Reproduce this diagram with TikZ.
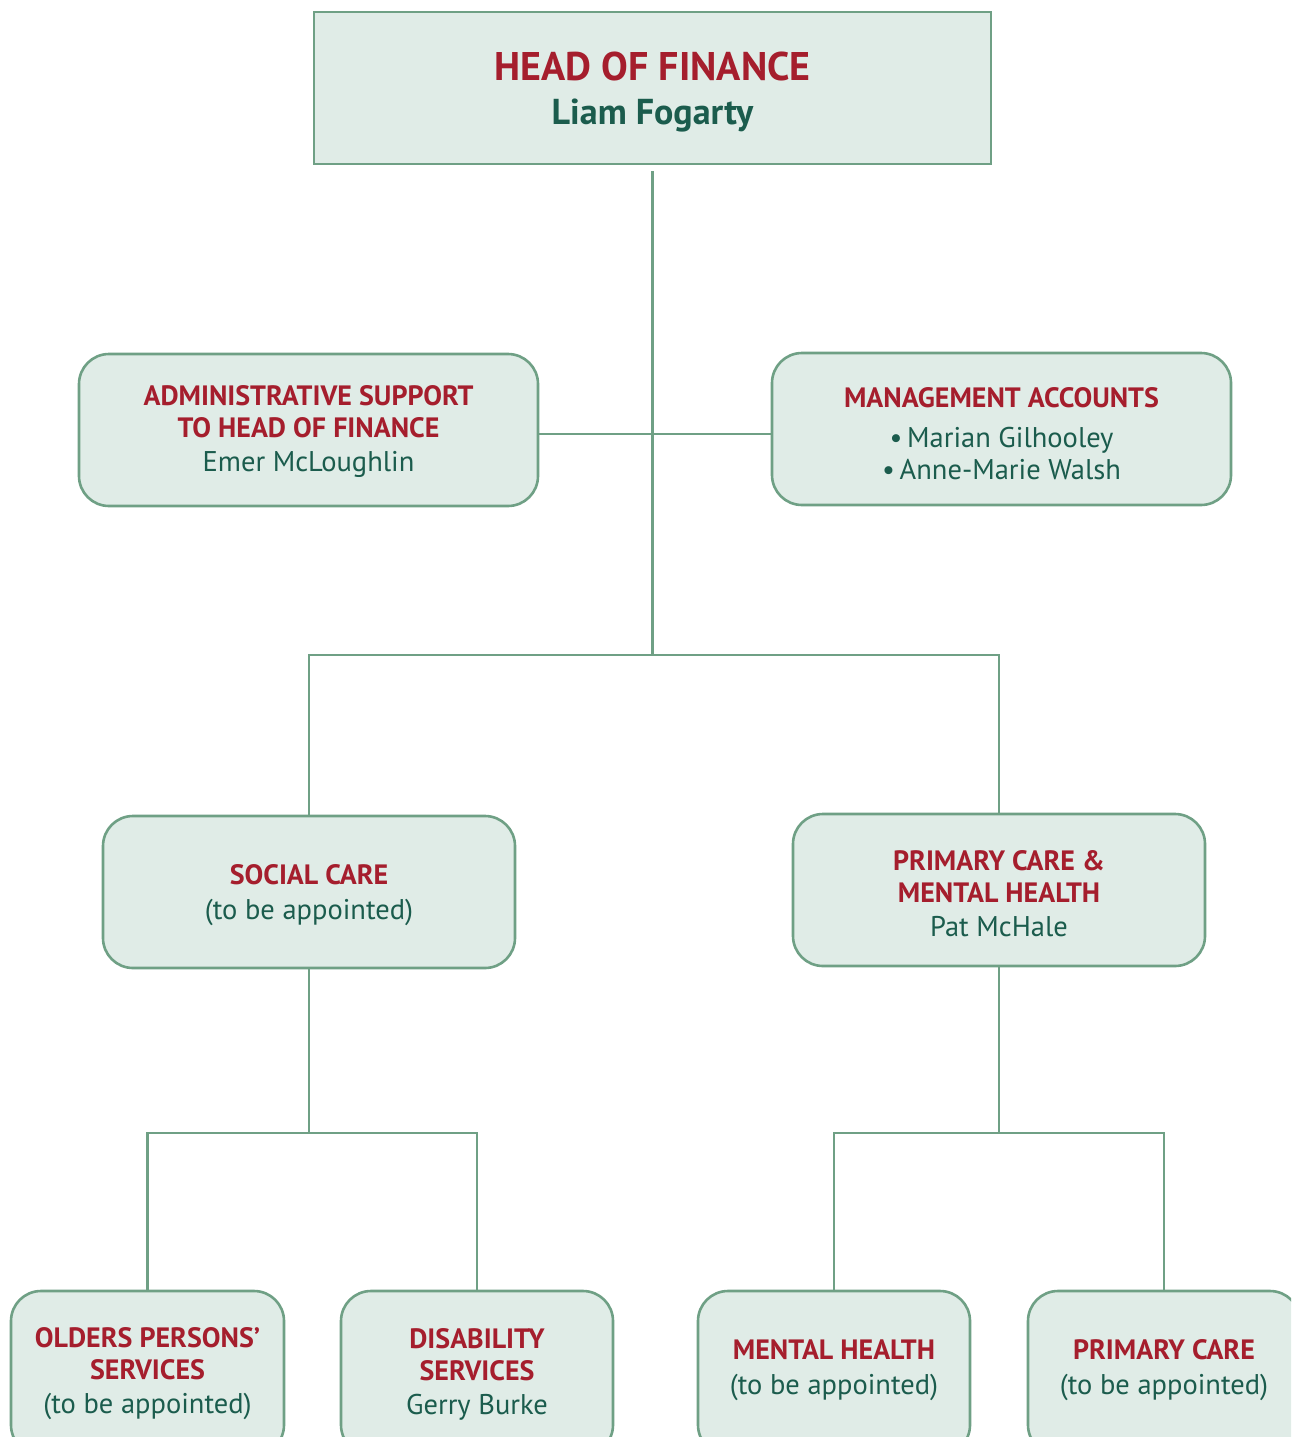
\documentclass[tikz,border=0pt]{standalone}
\usepackage{fontspec}
\setmainfont{PT Sans}
\definecolor{lineg}{HTML}{6FA085}
\definecolor{boxfill}{HTML}{E0ECE7}
\definecolor{titler}{HTML}{A51E2D}
\definecolor{namec}{HTML}{1B5C4D}
\newcommand{\ttl}[1]{{\color{titler}\bfseries\fontsize{28}{32}\selectfont #1}}
\begin{document}
\begin{tikzpicture}[x=1pt,y=-1pt,
  box/.style={draw=lineg, fill=boxfill, line width=2.6pt, rounded corners=30pt,
    inner sep=0pt},
  txt/.style={align=center, inner sep=0pt, text=namec,
    font=\fontsize{28.5}{32}\selectfont},
  link/.style={draw=lineg, line width=2.4pt}]
\useasboundingbox (0,0) rectangle (1291,1437);
\clip (0,0) rectangle (1291,1437);

% head of the department
\node[box, rounded corners=0pt, minimum width=677pt, minimum height=152pt] (top) at (652.5,88) {};
\node[txt, font=\fontsize{36}{44}\selectfont] (top-t) at ([yshift=-4pt]top.center)
  {{\color{titler}\bfseries\fontsize{40}{44}\selectfont HEAD OF FINANCE}\\
   {\bfseries Liam Fogarty}};

% staff reporting directly
\node[box, minimum width=459pt, minimum height=152pt] (admin) at (308.5,430) {};
\node[txt] (admin-t) at ([yshift=-2pt]admin.center)
  {\ttl{ADMINISTRATIVE SUPPORT}\\\ttl{TO HEAD OF FINANCE}\\[2pt]Emer McLoughlin};
\node[box, minimum width=459pt, minimum height=152pt] (mgmt) at (1001.5,429) {};
\node[txt] (mgmt-t) at ([yshift=-5pt]mgmt.center)
  {\ttl{MANAGEMENT ACCOUNTS}\\[8pt]\textbullet\,Marian Gilhooley\\\textbullet\,Anne-Marie Walsh};

% service areas
\node[box, minimum width=412pt, minimum height=152pt] (social) at (309,892) {};
\node[txt] (social-t) at ([yshift=-3.5pt]social.center)
  {\ttl{SOCIAL CARE}\\[3pt](to be appointed)};
\node[box, minimum width=412pt, minimum height=152pt] (pcmh) at (999,890) {};
\node[txt] (pcmh-t) at ([yshift=-4pt]pcmh.center)
  {\ttl{PRIMARY CARE \&}\\\ttl{MENTAL HEALTH}\\[2pt]Pat McHale};

% individual services
\node[box, minimum width=273pt, minimum height=164pt] (olders) at (147.5,1373) {};
\node[txt] (olders-t) at ([yshift=-1pt]olders.center)
  {\ttl{OLDERS PERSONS’}\\\ttl{SERVICES}\\[2pt](to be appointed)};
\node[box, minimum width=272pt, minimum height=164pt] (disab) at (477,1373) {};
\node[txt] (disab-t) at ([yshift=-1pt]disab.center)
  {\ttl{DISABILITY}\\\ttl{SERVICES}\\[2pt]Gerry Burke};
\node[box, minimum width=272pt, minimum height=164pt] (mental) at (834,1373) {};
\node[txt] (mental-t) at ([yshift=2.5pt]mental.center)
  {\ttl{MENTAL HEALTH}\\[3pt](to be appointed)};
\node[box, minimum width=272pt, minimum height=164pt] (primary) at (1164,1373) {};
\node[txt] (primary-t) at ([yshift=2.5pt]primary.center)
  {\ttl{PRIMARY CARE}\\[3pt](to be appointed)};

% junction points
\coordinate (j1) at (top.south |- 0,655);
\coordinate (j2) at (social.south |- 0,1133);
\coordinate (j3) at (pcmh.south |- 0,1133);

% connectors
\draw[link] ([yshift=-6pt]top.south) -- (j1);
\draw[link] ([yshift=-4pt]admin.east) -- ([yshift=-5pt]mgmt.west);
\draw[link] (social.north) |- (j1) -| (pcmh.north);
\draw[link] (social.south) -- (j2);
\draw[link] (olders.north) |- (j2) -| (disab.north);
\draw[link] (pcmh.south) -- (j3);
\draw[link] (mental.north) |- (j3) -| (primary.north);
\end{tikzpicture}
\end{document}
